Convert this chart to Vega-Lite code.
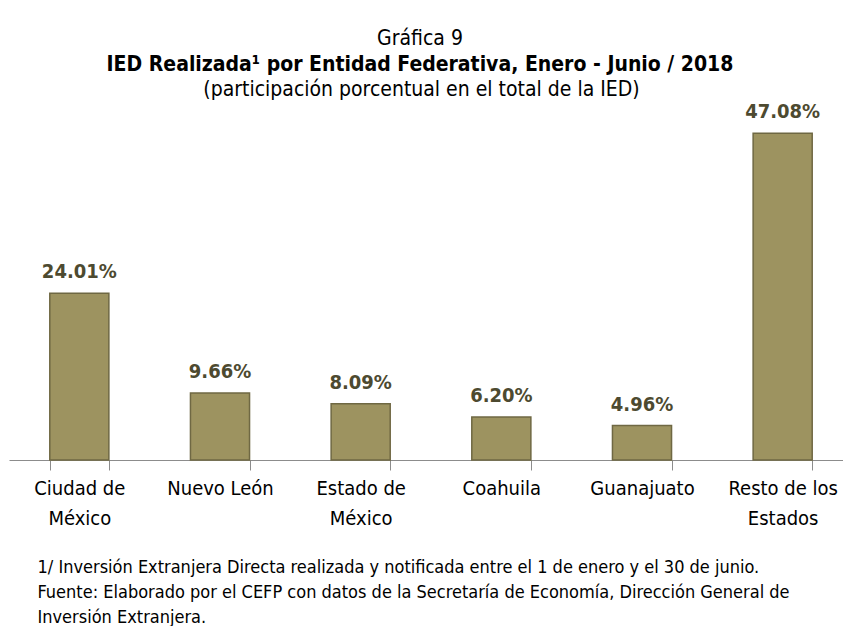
{
  "$schema": "https://vega.github.io/schema/vega-lite/v6.json",
  "autosize": {"type": "none"},
  "width": 844,
  "height": 347,
  "padding": {"left": 9, "top": 113, "right": 0, "bottom": 166},
  "background": "white",
  "config": {
    "font": "DejaVu Sans Condensed, sans-serif",
    "view": {"stroke": null}
  },
  "title": {
    "text": "Gráfica 9",
    "subtitle": "IED Realizada¹ por Entidad Federativa, Enero - Junio / 2018",
    "fontSize": 21,
    "fontWeight": "normal",
    "color": "black",
    "subtitleFontSize": 21,
    "subtitleColor": "black",
    "subtitleFontWeight": "bold",
    "subtitlePadding": 5,
    "anchor": "middle",
    "dx": -11,
    "offset": 3
  },
  "data": {
    "values": [
      {"estado": "Ciudad de México", "participacion": 0.2401},
      {"estado": "Nuevo León", "participacion": 0.0966},
      {"estado": "Estado de México", "participacion": 0.0809},
      {"estado": "Coahuila", "participacion": 0.0620},
      {"estado": "Guanajuato", "participacion": 0.0496},
      {"estado": "Resto de los Estados", "participacion": 0.4708}
    ]
  },
  "encoding": {
    "x": {
      "field": "estado",
      "type": "nominal",
      "sort": null,
      "scale": {"paddingInner": 0.58, "paddingOuter": 0.29},
      "axis": {
        "title": [
          "1/ Inversión Extranjera Directa realizada y notificada entre el 1 de enero y el 30 de junio.",
          "Fuente: Elaborado por el CEFP con datos de la Secretaría de Economía, Dirección General de",
          "Inversión Extranjera."
        ],
        "titleFontSize": 18,
        "titleFontWeight": "normal",
        "titleColor": "black",
        "titleAlign": "left",
        "titleAnchor": "start",
        "titleBaseline": "top",
        "titleLineHeight": 25,
        "titleX": 28,
        "titleY": 98,
        "labelAngle": 0,
        "labelFontSize": 20,
        "labelColor": "black",
        "labelLineHeight": 30,
        "labelPadding": 8,
        "labelExpr": "datum.value == 'Ciudad de México' ? ['Ciudad de', 'México'] : datum.value == 'Estado de México' ? ['Estado de', 'México'] : datum.value == 'Resto de los Estados' ? ['Resto de los', 'Estados'] : datum.value",
        "tickBand": "extent",
        "tickSize": 10,
        "tickColor": "#8c8c8c",
        "domainColor": "#8c8c8c",
        "domainWidth": 1.2
      }
    },
    "y": {
      "field": "participacion",
      "type": "quantitative",
      "scale": {"domain": [0, 0.5]},
      "axis": {
        "title": "(participación porcentual en el total de la IED)",
        "titleAngle": 0,
        "titleAlign": "center",
        "titleBaseline": "alphabetic",
        "titleX": 412,
        "titleY": -18,
        "titleFontSize": 21,
        "titleFontWeight": "normal",
        "titleColor": "black",
        "labels": false,
        "ticks": false,
        "domain": false,
        "grid": false
      }
    }
  },
  "layer": [
    {
      "mark": {"type": "bar", "color": "#9d9360", "stroke": "#6f6843", "strokeWidth": 1.5}
    },
    {
      "mark": {"type": "text", "baseline": "bottom", "dy": -11, "fontSize": 20, "fontWeight": "bold", "color": "#4d4a30"},
      "encoding": {
        "text": {"field": "participacion", "type": "quantitative", "format": ".2%"}
      }
    }
  ]
}
